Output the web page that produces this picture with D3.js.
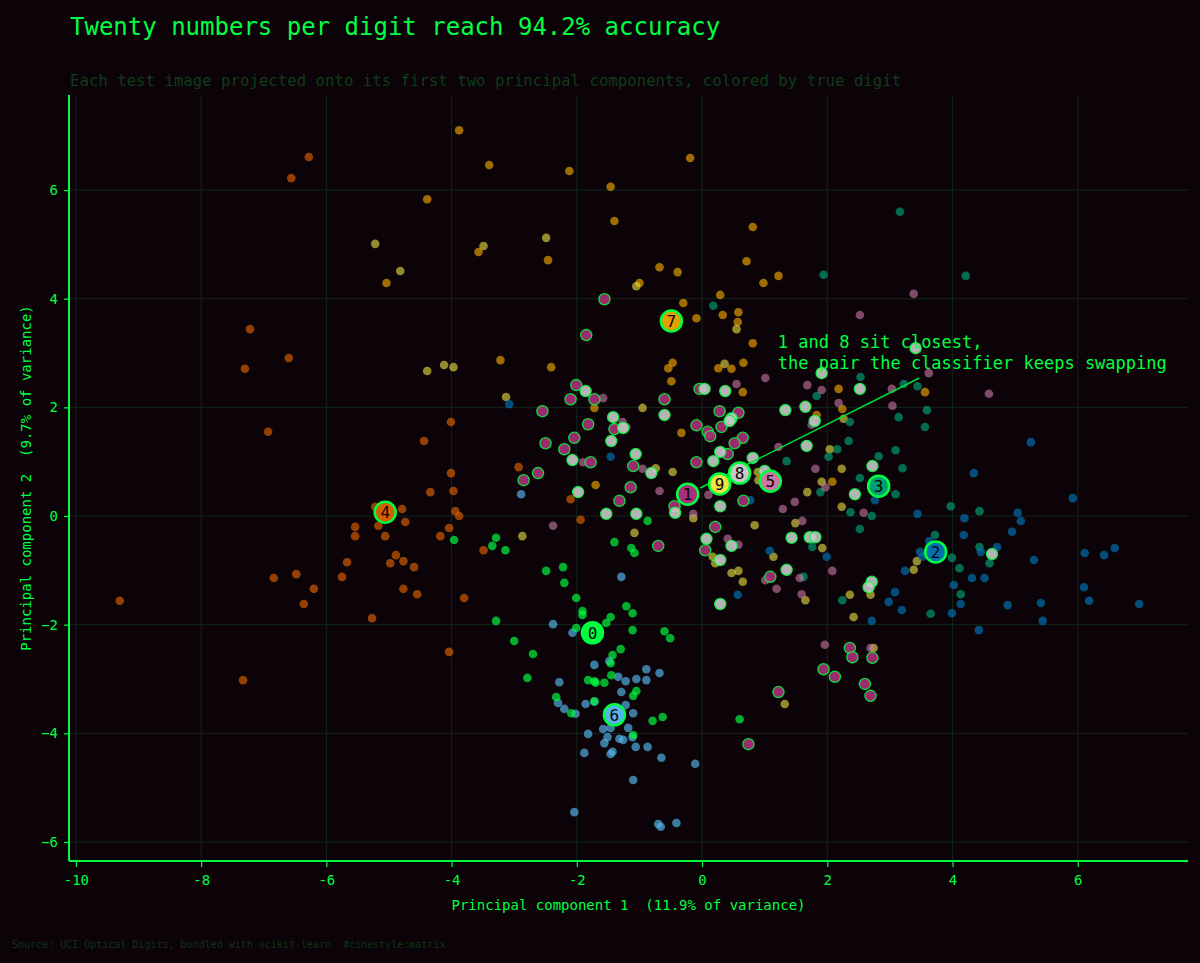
<!DOCTYPE html>
<html>
<head>
<meta charset="utf-8">
<script src="https://cdn.jsdelivr.net/npm/d3@7"></script>
<style>
  body { margin: 0; background: #0b0308; }
  svg { display: block; }
  text { white-space: pre; }
</style>
</head>
<body>
<svg id="chart" width="1200" height="963"></svg>
<script>
// Tick values
const xTicks = [-10, -8, -6, -4, -2, 0, 2, 4, 6];
const yTicks = [-6, -4, -2, 0, 2, 4, 6];

// Projected test images, one array per true digit: [pc1, pc2]
const digit0 = [[-3.96,-0.44],[-3.29,-0.40],[-3.35,-0.55],[-3.14,-0.63],[-2.49,-1.01],[-2.22,-0.94],[-2.20,-1.23],[-2.01,-1.51],[-1.91,-1.75],[-1.91,-1.82],[-3.29,-1.93],[-2.01,-2.06],[-3.00,-2.30],[-2.70,-2.54],[-2.79,-2.98],[-2.33,-3.33],[-2.09,-3.63],[-1.82,-3.02],[-1.72,-3.04],[-1.70,-3.07],[-1.56,-3.07],[-1.45,-2.93],[-1.46,-2.71],[-1.43,-2.56],[-1.30,-2.45],[-1.21,-1.66],[-1.11,-1.79],[-1.46,-1.86],[-1.53,-1.97],[-1.11,-2.10],[-0.60,-2.12],[-0.51,-2.25],[-1.05,-3.22],[-1.10,-3.31],[-1.72,-3.41],[-0.79,-3.77],[-0.63,-3.70],[0.60,-3.74],[-1.10,-4.03],[-0.87,-0.09],[-1.40,-0.48],[-1.13,-0.59],[-1.08,-0.68]];
const digit1 = [[-1.56,3.99],[-1.85,3.33],[-2.01,2.41],[-2.10,2.15],[-1.72,2.15],[-2.55,1.93],[-1.82,1.69],[-1.40,1.60],[-2.04,1.44],[-2.50,1.34],[-2.20,1.23],[-1.78,0.99],[-2.62,0.79],[-2.85,0.66],[-1.10,0.92],[-1.14,0.53],[-1.32,0.28],[-0.60,2.15],[-0.09,1.67],[0.28,1.93],[0.58,1.90],[0.31,1.64],[0.09,1.55],[0.13,1.47],[0.65,1.44],[0.52,1.34],[0.41,1.14],[-0.09,0.99],[0.66,0.28],[-0.44,0.18],[0.21,-0.20],[-0.04,2.34],[-0.70,-0.55],[0.05,-0.63],[1.09,-1.12],[2.36,-2.43],[2.40,-2.60],[2.72,-2.61],[1.94,-2.82],[2.12,-2.96],[2.60,-3.09],[2.69,-3.31],[1.22,-3.24],[0.74,-4.20]];
const digit2 = [[-3.08,2.06],[-1.46,1.09],[0.77,0.29],[1.08,-0.64],[0.57,-1.45],[2.76,0.29],[3.44,0.04],[4.19,-0.04],[4.18,-0.35],[3.63,-0.46],[3.48,-0.66],[3.52,-0.75],[1.99,-0.75],[3.24,-1.01],[4.02,-1.27],[4.31,-1.14],[4.51,-1.14],[4.45,-0.66],[4.71,-0.57],[5.04,0.06],[5.09,-0.09],[4.95,-0.29],[5.25,1.36],[4.34,0.79],[5.92,0.33],[5.30,-0.81],[6.11,-0.68],[6.42,-0.72],[6.59,-0.59],[3.08,-1.40],[2.98,-1.58],[3.19,-1.73],[2.71,-1.93],[3.99,-1.79],[4.13,-1.62],[4.88,-1.64],[5.41,-1.60],[5.44,-1.93],[4.42,-2.10],[6.10,-1.31],[6.18,-1.56],[6.98,-1.62]];
const digit3 = [[0.18,3.87],[1.94,4.44],[3.16,5.60],[4.21,4.42],[2.53,2.56],[3.22,2.43],[3.44,2.39],[1.83,2.21],[3.59,1.95],[3.14,1.82],[3.56,1.64],[2.36,1.73],[2.34,1.38],[2.16,1.23],[2.82,1.10],[3.09,1.21],[3.20,0.88],[2.02,1.09],[1.35,1.01],[2.52,0.70],[1.89,0.44],[2.37,0.07],[3.09,0.40],[2.71,0.00],[2.52,-0.24],[3.97,0.18],[4.43,0.09],[3.72,-0.35],[1.76,-0.57],[3.99,-0.77],[4.43,-0.57],[4.59,-0.87],[4.11,-0.96],[4.13,-1.44],[2.24,-1.55],[3.65,-1.80],[1.62,-1.12]];
const digit4 = [[-9.30,-1.56],[-7.33,-3.02],[-7.30,2.71],[-7.22,3.44],[-6.93,1.55],[-6.84,-1.14],[-6.60,2.91],[-6.56,6.22],[-6.48,-1.07],[-6.36,-1.62],[-6.28,6.61],[-6.20,-1.34],[-5.75,-1.12],[-5.67,-0.85],[-5.54,-0.20],[-5.54,-0.37],[-5.27,-1.88],[-5.22,0.17],[-5.17,-0.18],[-5.06,-0.37],[-4.98,-0.87],[-4.89,-0.72],[-4.79,0.13],[-4.77,-0.83],[-4.77,-1.34],[-4.74,-0.11],[-4.60,-0.94],[-4.55,-1.44],[-4.44,1.38],[-4.34,0.44],[-4.18,-0.37],[-4.04,-0.22],[-4.04,-2.50],[-4.01,1.73],[-4.01,0.79],[-3.97,0.46],[-3.94,0.09],[-3.88,0.00],[-3.80,-1.51],[-3.49,-0.63],[-2.93,0.90],[-2.10,0.31],[-1.94,-0.07]];
const digit5 = [[-2.38,-0.18],[-1.58,2.17],[-1.27,1.73],[-1.21,1.64],[-1.90,0.99],[-0.95,0.87],[-0.68,0.46],[0.10,0.39],[-0.14,0.04],[0.55,2.43],[1.01,2.54],[1.22,1.27],[1.29,0.13],[1.48,0.26],[0.41,-0.42],[0.58,-0.53],[1.60,-0.09],[1.01,-1.18],[1.19,-1.34],[1.56,-1.14],[1.59,-1.44],[3.62,2.63],[4.58,2.25],[3.03,2.34],[3.04,2.03],[2.18,2.08],[1.68,2.41],[1.91,2.32],[1.75,1.68],[1.81,0.87],[1.97,0.53],[2.58,0.06],[2.08,-1.01],[1.96,-2.37],[2.69,-2.43],[3.38,4.09],[2.52,3.70]];
const digit6 = [[-2.89,0.40],[-1.29,-1.12],[-2.38,-1.99],[-2.07,-2.15],[-1.72,-2.74],[-1.48,-2.67],[-2.28,-3.06],[-1.34,-2.96],[-1.22,-3.04],[-1.05,-3.00],[-0.89,-2.82],[-0.68,-2.89],[-0.89,-3.02],[-1.29,-3.24],[-1.22,-3.48],[-1.10,-3.63],[-1.86,-3.46],[-2.30,-3.44],[-2.20,-3.55],[-2.02,-3.64],[-1.72,-3.42],[-1.58,-3.92],[-1.46,-3.90],[-1.18,-3.90],[-1.82,-4.01],[-1.51,-4.07],[-1.56,-4.18],[-1.32,-4.10],[-1.26,-4.12],[-1.11,-4.07],[-1.06,-4.25],[-0.87,-4.25],[-1.88,-4.36],[-1.46,-4.38],[-1.43,-4.34],[-0.65,-4.45],[-0.11,-4.56],[-1.10,-4.86],[-2.04,-5.45],[-0.70,-5.67],[-0.66,-5.72],[-0.41,-5.65]];
const digit7 = [[-3.88,7.10],[-3.40,6.46],[-2.12,6.35],[-4.39,5.83],[-3.57,4.86],[-2.46,4.71],[-5.04,4.29],[-3.22,2.87],[-2.41,2.74],[-1.46,6.06],[-1.40,5.43],[-0.19,6.59],[0.81,5.32],[0.71,4.69],[-0.68,4.58],[-0.39,4.49],[-1.00,4.29],[1.22,4.42],[0.98,4.29],[0.29,4.07],[-0.30,3.92],[0.33,3.70],[0.58,3.75],[-0.09,3.64],[0.57,3.57],[0.81,3.18],[-0.47,2.82],[-0.54,2.72],[0.26,2.72],[0.47,2.71],[0.66,2.82],[-0.49,2.48],[0.65,2.28],[2.18,2.34],[3.56,2.28],[2.24,1.97],[-0.33,1.53],[-1.72,1.99],[-1.70,0.57],[2.08,0.63],[1.83,1.86]];
const digit8 = [[-1.86,2.30],[-1.42,1.82],[-1.26,1.62],[-1.45,1.38],[-1.06,1.14],[-2.07,1.03],[-1.98,0.44],[-0.81,0.79],[-0.60,1.86],[0.04,2.34],[0.37,2.30],[0.47,1.80],[0.44,1.75],[0.29,1.18],[0.18,1.01],[0.81,1.07],[1.33,1.95],[0.29,0.18],[-0.43,0.06],[-1.05,0.04],[-1.53,0.04],[1.43,-0.40],[0.07,-0.42],[1.00,0.83],[3.41,3.09],[1.91,2.63],[1.65,2.01],[2.52,2.34],[1.80,1.75],[1.67,1.29],[2.72,0.92],[2.44,0.40],[1.72,-0.39],[1.81,-0.39],[2.71,-1.21],[2.66,-1.31],[4.63,-0.70],[0.47,-0.55],[0.29,-0.81],[1.35,-0.99],[0.29,-1.62]];
const digit9 = [[-5.22,5.01],[-4.82,4.51],[-3.49,4.97],[-2.49,5.12],[-4.39,2.67],[-4.12,2.78],[-3.97,2.74],[-3.13,2.19],[-1.05,4.23],[0.55,3.44],[0.36,2.80],[-0.95,1.99],[2.26,1.79],[2.04,1.23],[-0.74,0.88],[-0.47,0.81],[0.89,0.81],[0.90,0.66],[1.68,0.44],[2.23,0.87],[1.91,0.63],[2.23,0.17],[-0.14,-0.04],[0.84,-0.17],[1.49,-0.13],[-1.08,-0.31],[-2.87,-0.37],[0.17,-0.75],[0.21,-0.87],[0.47,-1.05],[0.58,-1.01],[0.65,-1.21],[1.14,-0.75],[1.65,-1.55],[1.92,-0.59],[2.36,-1.45],[2.69,-1.45],[2.42,-1.86],[3.43,-0.83],[3.38,-0.99],[2.74,-2.43],[1.32,-3.46]];

// Class centroids in the same projection
const centroidDigits = [0, 1, 2, 3, 4, 5, 6, 7, 8, 9];
const centroidX = [-1.75, -0.23, 3.73, 2.82, -5.06, 1.09, -1.40, -0.49, 0.60, 0.28];
const centroidY = [-2.15, 0.40, -0.66, 0.55, 0.07, 0.64, -3.66, 3.59, 0.79, 0.59];

// Colours per digit
const digitColours = ["#00ff41", "#a8307a", "#0072b2", "#009e73", "#d55e00", "#cc79a7", "#56b4e9", "#e69f00", "#c8c8c8", "#f0e442"];
const highlighted = [1, 8];

// Annotation
const noteLines = ["1 and 8 sit closest,", "the pair the classifier keeps swapping"];
const noteAnchor = [1.21, 3.09];
const noteLineEnd = [3.47, 2.54];

const svg = d3.select("#chart");
const width = +svg.attr("width");
const height = +svg.attr("height");
const green = "#00ff41";
const font = "DejaVu Sans Mono, monospace";

svg.append("rect").attr("width", width).attr("height", height).attr("fill", "#0b0308");

const x = d3.scaleLinear().domain([-10.11, 7.76]).range([69, 1188]);
const y = d3.scaleLinear().domain([-6.35, 7.75]).range([861, 95]);

// Grid
const grid = svg.append("g");
grid.selectAll(".vgrid").data(xTicks).enter().append("line")
    .attr("x1", d => x(d)).attr("x2", d => x(d))
    .attr("y1", 95).attr("y2", 861)
    .attr("stroke", "#10261a").attr("stroke-width", 1);
grid.selectAll(".hgrid").data(yTicks).enter().append("line")
    .attr("x1", 69).attr("x2", 1188)
    .attr("y1", d => y(d)).attr("y2", d => y(d))
    .attr("stroke", "#10261a").attr("stroke-width", 1);

// Points, ordinary digits first, then the highlighted pair
const allDigits = [digit0, digit1, digit2, digit3, digit4, digit5, digit6, digit7, digit8, digit9];
const pts = svg.append("g");
const order = [4, 7, 9, 3, 2, 6, 0, 5, 1, 8];
order.forEach(function(k) {
    const isHi = highlighted.includes(k);
    pts.append("g").selectAll("circle")
        .data(allDigits[k])
        .enter().append("circle")
        .attr("cx", d => x(d[0]))
        .attr("cy", d => y(d[1]))
        .attr("r", isHi ? 5.6 : 4.3)
        .attr("fill", digitColours[k])
        .attr("fill-opacity", isHi ? 0.9 : (k == 5 || k == 9 ? 0.6 : 0.68))
        .attr("stroke", isHi ? green : "none")
        .attr("stroke-opacity", 0.85)
        .attr("stroke-width", isHi ? 1.3 : 0);
});

// Annotation connector, trimmed at the centroid of 1
const cx1 = x(centroidX[1]), cy1 = y(centroidY[1]);
const ex = x(noteLineEnd[0]), ey = y(noteLineEnd[1]);
const len = Math.hypot(ex - cx1, ey - cy1);
svg.append("line")
    .attr("x1", cx1 + (ex - cx1) * 14 / len)
    .attr("y1", cy1 + (ey - cy1) * 14 / len)
    .attr("x2", ex).attr("y2", ey)
    .attr("stroke", "#00e03a").attr("stroke-width", 1.5);

svg.append("text")
    .attr("x", x(noteAnchor[0])).attr("y", y(noteAnchor[1]))
    .attr("fill", green).attr("font-family", font).attr("font-size", 17)
    .selectAll("tspan").data(noteLines).enter().append("tspan")
    .attr("x", x(noteAnchor[0]))
    .attr("dy", (d, i) => i == 0 ? 0 : 21)
    .text(d => d);

// Centroid badges
const cent = svg.append("g").selectAll("g")
    .data(centroidDigits)
    .enter().append("g")
    .attr("transform", (d, i) => "translate(" + x(centroidX[i]) + "," + y(centroidY[i]) + ")");
cent.append("circle")
    .attr("r", 10.5)
    .attr("fill", d => digitColours[d])
    .attr("stroke", green).attr("stroke-width", 2.5);
cent.append("text")
    .text(d => d)
    .attr("text-anchor", "middle").attr("dy", "0.36em")
    .attr("font-family", font).attr("font-size", 16)
    .attr("fill", "#0b0308");

// Axes
const xAxis = svg.append("g").attr("transform", "translate(0,861)")
    .call(d3.axisBottom(x).tickValues(xTicks).tickSize(6).tickSizeOuter(0).tickPadding(8)
        .tickFormat(d => String(d)));
const yAxis = svg.append("g").attr("transform", "translate(69,0)")
    .call(d3.axisLeft(y).tickValues(yTicks).tickSize(5).tickSizeOuter(0).tickPadding(6)
        .tickFormat(d => d < 0 ? "\u2212" + Math.abs(d) : String(d)));
[xAxis, yAxis].forEach(function(a) {
    a.select(".domain").attr("stroke", green).attr("stroke-width", 2);
    a.selectAll(".tick line").attr("stroke", green).attr("stroke-width", 1.2);
    a.selectAll(".tick text").attr("fill", green).attr("font-family", font).attr("font-size", 14);
});
// extend the spines to the plot edges
xAxis.select(".domain").attr("d", "M69,0H1188");
yAxis.select(".domain").attr("d", "M0,95V861");

// Axis titles
svg.append("text")
    .attr("x", 628.5).attr("y", 910)
    .attr("text-anchor", "middle")
    .attr("fill", green).attr("font-family", font).attr("font-size", 14)
    .text("Principal component 1  (11.9% of variance)");
svg.append("text")
    .attr("transform", "translate(31,478) rotate(-90)")
    .attr("text-anchor", "middle")
    .attr("fill", green).attr("font-family", font).attr("font-size", 14)
    .text("Principal component 2  (9.7% of variance)");

// Title, subtitle, source
svg.append("text")
    .attr("x", 70).attr("y", 35)
    .attr("fill", green).attr("font-family", font).attr("font-size", 24)
    .text("Twenty numbers per digit reach 94.2% accuracy");
svg.append("text")
    .attr("x", 70).attr("y", 86)
    .attr("fill", "#0f3c1a").attr("font-family", font).attr("font-size", 15.7)
    .text("Each test image projected onto its first two principal components, colored by true digit");
svg.append("text")
    .attr("x", 12).attr("y", 948)
    .attr("fill", "#0d3317").attr("font-family", font).attr("font-size", 10)
    .text("Source: UCI Optical Digits, bundled with scikit-learn  #cinestyle:matrix");
</script>
</body>
</html>
